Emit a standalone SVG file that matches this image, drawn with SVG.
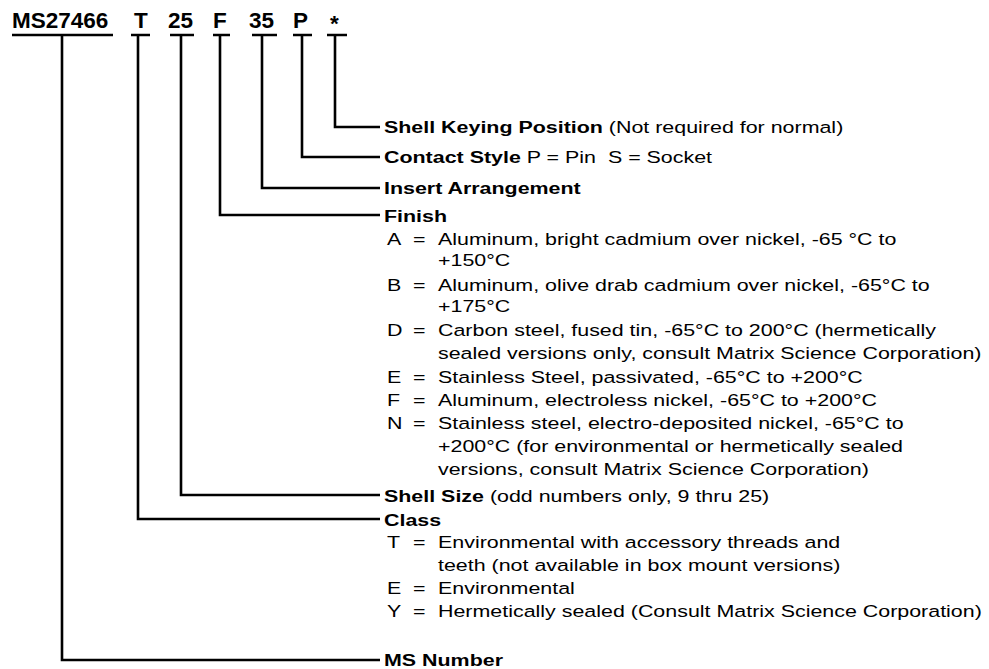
<svg xmlns="http://www.w3.org/2000/svg" width="989" height="669" viewBox="0 0 989 669">
<style>
.hd{font-family:"Liberation Sans",Arial,sans-serif;font-weight:bold;font-size:22.5px;fill:#000}
.b{font-family:"Liberation Sans",Arial,sans-serif;font-weight:bold;font-size:17px;fill:#000}
.t{font-family:"Liberation Sans",Arial,sans-serif;font-size:17px;fill:#000}
.ln{stroke:#000;stroke-width:2.6;fill:none}
.ul{stroke:#000;stroke-width:2.5}
</style>
<rect width="989" height="669" fill="#fff"/>
<g id="header">
<text class="hd" x="12" y="28">MS27466</text>
<text class="hd" x="134" y="28">T</text>
<text class="hd" x="168" y="28">25</text>
<text class="hd" x="213" y="28">F</text>
<text class="hd" x="249" y="28">35</text>
<text class="hd" x="293" y="28">P</text>
<text class="hd" x="330" y="31">*</text>
<line class="ul" x1="12" y1="35" x2="113" y2="35"/>
<line class="ul" x1="131" y1="35" x2="150" y2="35"/>
<line class="ul" x1="170" y1="35" x2="194" y2="35"/>
<line class="ul" x1="213" y1="35" x2="230" y2="35"/>
<line class="ul" x1="252" y1="35" x2="277" y2="35"/>
<line class="ul" x1="293" y1="35" x2="312" y2="35"/>
<line class="ul" x1="327" y1="35" x2="347" y2="35"/>
</g>
<g id="connectors">
<polyline class="ln" points="335,35 335,127 380,127"/>
<polyline class="ln" points="302,35 302,157 380,157"/>
<polyline class="ln" points="262,35 262,188 380,188"/>
<polyline class="ln" points="220,35 220,215 380,215"/>
<polyline class="ln" points="181,35 181,495 380,495"/>
<polyline class="ln" points="138,35 138,519 380,519"/>
<polyline class="ln" points="62,35 62,660 380,660"/>
</g>
<g id="keying"><text transform="translate(384,133) scale(1.26,1)"><tspan class="b">Shell Keying Position</tspan><tspan class="t"> (Not required for normal)</tspan></text></g>
<g id="contact"><text transform="translate(384,163) scale(1.26,1)"><tspan class="b">Contact Style</tspan><tspan class="t"> P = Pin&#160; S = Socket</tspan></text></g>
<g id="insert"><text class="b" transform="translate(384,194) scale(1.26,1)">Insert Arrangement</text></g>
<g id="finish">
<text class="b" transform="translate(384,222) scale(1.26,1)">Finish</text>
<text class="t" transform="translate(387,245) scale(1.26,1)">A</text><text class="t" transform="translate(413,245) scale(1.26,1)">=</text><text class="t" transform="translate(438,245) scale(1.26,1)">Aluminum, bright cadmium over nickel, -65 °C to</text>
<text class="t" transform="translate(438,266) scale(1.26,1)">+150°C</text>
<text class="t" transform="translate(387,291) scale(1.26,1)">B</text><text class="t" transform="translate(413,291) scale(1.26,1)">=</text><text class="t" transform="translate(438,291) scale(1.26,1)">Aluminum, olive drab cadmium over nickel, -65°C to</text>
<text class="t" transform="translate(438,312) scale(1.26,1)">+175°C</text>
<text class="t" transform="translate(387,336) scale(1.26,1)">D</text><text class="t" transform="translate(413,336) scale(1.26,1)">=</text><text class="t" transform="translate(438,336) scale(1.26,1)">Carbon steel, fused tin, -65°C to 200°C (hermetically</text>
<text class="t" transform="translate(438,359) scale(1.26,1)">sealed versions only, consult Matrix Science Corporation)</text>
<text class="t" transform="translate(387,383) scale(1.26,1)">E</text><text class="t" transform="translate(413,383) scale(1.26,1)">=</text><text class="t" transform="translate(438,383) scale(1.26,1)">Stainless Steel, passivated, -65°C to +200°C</text>
<text class="t" transform="translate(387,406) scale(1.26,1)">F</text><text class="t" transform="translate(413,406) scale(1.26,1)">=</text><text class="t" transform="translate(438,406) scale(1.26,1)">Aluminum, electroless nickel, -65°C to +200°C</text>
<text class="t" transform="translate(387,429) scale(1.26,1)">N</text><text class="t" transform="translate(413,429) scale(1.26,1)">=</text><text class="t" transform="translate(438,429) scale(1.26,1)">Stainless steel, electro-deposited nickel, -65°C to</text>
<text class="t" transform="translate(438,452) scale(1.26,1)">+200°C (for environmental or hermetically sealed</text>
<text class="t" transform="translate(438,475) scale(1.26,1)">versions, consult Matrix Science Corporation)</text>
</g>
<g id="shellsize"><text transform="translate(384,502) scale(1.26,1)"><tspan class="b">Shell Size</tspan><tspan class="t"> (odd numbers only, 9 thru 25)</tspan></text></g>
<g id="class">
<text class="b" transform="translate(384,526) scale(1.26,1)">Class</text>
<text class="t" transform="translate(387,548) scale(1.26,1)">T</text><text class="t" transform="translate(413,548) scale(1.26,1)">=</text><text class="t" transform="translate(438,548) scale(1.26,1)">Environmental with accessory threads and</text>
<text class="t" transform="translate(438,571) scale(1.26,1)">teeth (not available in box mount versions)</text>
<text class="t" transform="translate(387,594) scale(1.26,1)">E</text><text class="t" transform="translate(413,594) scale(1.26,1)">=</text><text class="t" transform="translate(438,594) scale(1.26,1)">Environmental</text>
<text class="t" transform="translate(387,617) scale(1.26,1)">Y</text><text class="t" transform="translate(413,617) scale(1.26,1)">=</text><text class="t" transform="translate(438,617) scale(1.26,1)">Hermetically sealed (Consult Matrix Science Corporation)</text>
</g>
<g id="msnumber"><text class="b" transform="translate(384,666) scale(1.26,1)">MS Number</text></g>
</svg>
